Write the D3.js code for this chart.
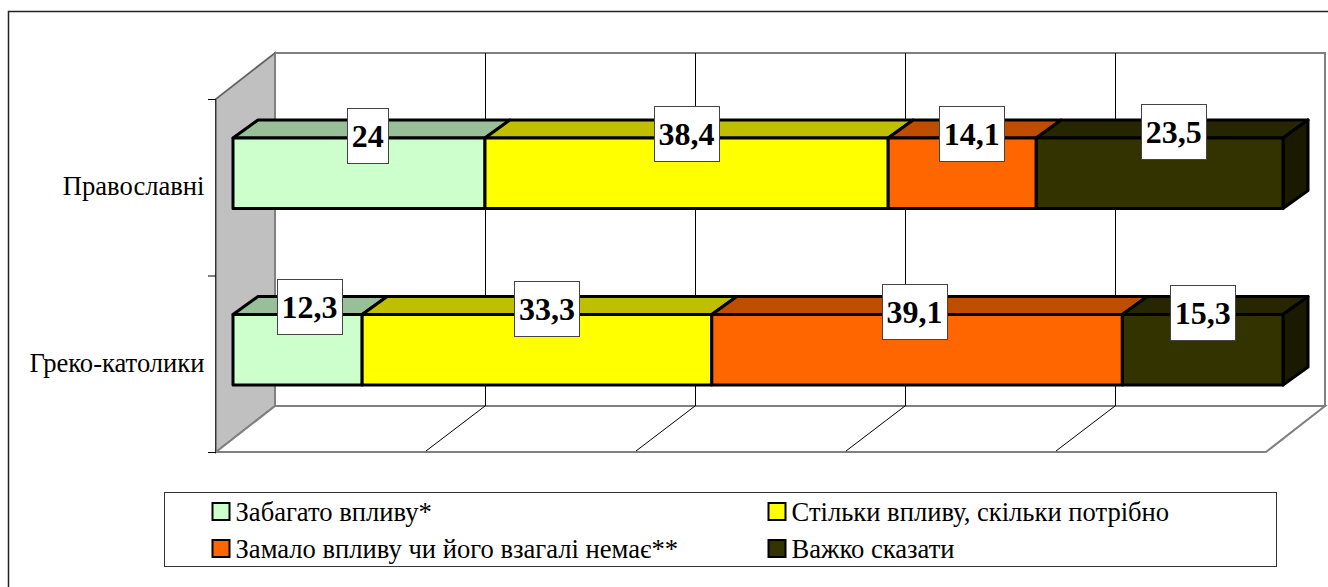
<!DOCTYPE html>
<html>
<head>
<meta charset="utf-8">
<script src="https://cdn.jsdelivr.net/npm/d3@7"></script>
<style>
  html, body { margin: 0; padding: 0; background: #fff; }
  svg { display: block; }
  text { font-family: "Liberation Serif", serif; fill: #000; }
</style>
</head>
<body>
<div id="chart-area"></div>
<script>
const categories = ["Православні", "Греко-католики"];
const seriesNames = ["Забагато впливу*", "Стільки впливу, скільки потрібно", "Замало впливу чи його взагалі немає**", "Важко сказати"];
const orthodoxValues = [24, 38.4, 14.1, 23.5];
const catholicValues = [12.3, 33.3, 39.1, 15.3];
const valueLabels = [["24", "38,4", "14,1", "23,5"], ["12,3", "33,3", "39,1", "15,3"]];
const colors = ["#ccffcc", "#ffff00", "#ff6600", "#333300"];
const values = [orthodoxValues, catholicValues];

const SVG_WIDTH = 1328;
const SVG_HEIGHT = 587;

// the labels were dragged by hand in the original, so they are nudged one by one
const labelNudge = [[[8.7, -2], [0, -4], [9.5, -4], [14, -5.5]], [[12, -7.5], [10, -5], [-2.5, -2.5], [0, -1.5]]];

const svg = d3.select("#chart-area").append("svg").attr("width", SVG_WIDTH).attr("height", SVG_HEIGHT);

// outer frame runs off the picture on the right and bottom
svg.append("path").attr("d", "M8.5,587V11.5H1328").attr("fill", "none").attr("stroke", "#222").attr("stroke-width", 1.5);

const depth = { x: 59, y: -46 };
const barDepth = { x: 25, y: -18 };

const xFront = d3.scaleLinear().domain([0, 100]).range([216, 1266]);
const xBack = d3.scaleLinear().domain([0, 100]).range([216 + depth.x, 1266 + depth.x]);
const xBar = d3.scaleLinear().domain([0, 100]).range([233, 1283]);
const yWall = d3.scalePoint().domain([0, 1, 2]).range([99, 452]);
const yBar = d3.scaleBand().domain(categories).range([85, 438]).paddingInner(0.6).paddingOuter(0.3);

const line = d3.line();
const top_ = yWall(0), bottom = yWall(2);

// left wall
svg.append("path")
    .attr("d", line([[xFront(0), top_], [xBack(0), top_ + depth.y], [xBack(0), bottom + depth.y], [xFront(0), bottom]]) + "Z")
    .attr("fill", "#c0c0c0").attr("stroke", "#808080").attr("stroke-width", 2);

// floor
svg.append("path")
    .attr("d", line([[xFront(0), bottom], [xBack(0), bottom + depth.y], [xBack(100), bottom + depth.y], [xFront(100), bottom]]) + "Z")
    .attr("fill", "#fff").attr("stroke", "#808080").attr("stroke-width", 2);

// back wall
svg.append("rect")
    .attr("x", xBack(0)).attr("y", top_ + depth.y)
    .attr("width", xBack(100) - xBack(0)).attr("height", bottom - top_)
    .attr("fill", "#fff").attr("stroke", "#808080").attr("stroke-width", 2);

const gridTicks = xFront.ticks(5).slice(1, -1);

svg.append("g").selectAll("line").data(gridTicks).enter().append("line")
    .attr("x1", (d) => xBack(d) + 0.5).attr("x2", (d) => xBack(d) + 0.5)
    .attr("y1", top_ + depth.y).attr("y2", bottom + depth.y)
    .attr("stroke", "#000").attr("stroke-width", 1);

svg.append("g").selectAll("line").data(gridTicks).enter().append("line")
    .attr("x1", (d) => xBack(d)).attr("y1", bottom + depth.y)
    .attr("x2", (d) => xFront(d)).attr("y2", bottom - 1)
    .attr("stroke", "#000").attr("stroke-width", 1);

// axis line and its ticks in front of the wall
svg.append("line")
    .attr("x1", xFront(0) - 0.5).attr("x2", xFront(0) - 0.5).attr("y1", top_).attr("y2", bottom)
    .attr("stroke", "#333").attr("stroke-width", 1);
svg.append("line")
    .attr("x1", xFront(0)).attr("x2", xBack(0)).attr("y1", top_).attr("y2", top_ + depth.y)
    .attr("stroke", "#555").attr("stroke-width", 1);
svg.append("g").selectAll("line").data(yWall.domain()).enter().append("line")
    .attr("x1", xFront(0) - 8).attr("x2", xFront(0))
    .attr("y1", (d) => yWall(d) + 0.5).attr("y2", (d) => yWall(d) + 0.5)
    .attr("stroke", "#000");

svg.append("g").selectAll("text").data(categories).enter().append("text")
    .attr("x", 204.5)
    .attr("y", (d) => yBar(d) + yBar.bandwidth() / 2 + 22)
    .attr("text-anchor", "end")
    .attr("font-size", "26.6px")
    .text((d) => d);

function shade(color, k) {
    const c = d3.rgb(color);
    return d3.rgb(c.r * k, c.g * k, c.b * k).formatHex();
}

// stacked boxes
categories.forEach((cat, row) => {
    const starts = d3.cumsum([0].concat(values[row]));
    const y0 = yBar(cat);
    const h = yBar.bandwidth();
    const g = svg.append("g");

    values[row].forEach((v, i) => {
        const x0 = xBar(starts[i]);
        const x1 = xBar(starts[i + 1]);
        g.append("path")
            .attr("d", line([[x0, y0], [x0 + barDepth.x, y0 + barDepth.y], [x1 + barDepth.x, y0 + barDepth.y], [x1, y0]]) + "Z")
            .attr("fill", shade(colors[i], 0.75));
        if (i === values[row].length - 1) {
            g.append("path")
                .attr("d", line([[x1, y0], [x1 + barDepth.x, y0 + barDepth.y], [x1 + barDepth.x, y0 + barDepth.y + h], [x1, y0 + h]]) + "Z")
                .attr("fill", shade(colors[i], 0.5));
        }
        g.append("rect").attr("x", x0).attr("y", y0).attr("width", x1 - x0).attr("height", h).attr("fill", colors[i]);
    });

    g.selectAll("path, rect")
        .attr("stroke", "#000").attr("stroke-width", 3).attr("stroke-linejoin", "round");
});

// value labels go on top of all the boxes
categories.forEach((cat, row) => {
    const starts = d3.cumsum([0].concat(values[row]));
    values[row].forEach((v, i) => {
        const cx = (xBar(starts[i]) + xBar(starts[i + 1])) / 2 + labelNudge[row][i][0];
        const cy = yBar(cat) + labelNudge[row][i][1];
        const w = valueLabels[row][i].length > 2 ? 65 : 41;
        svg.append("rect")
            .attr("x", Math.round(cx - w / 2) + 0.5).attr("y", Math.round(cy - 28) + 0.5)
            .attr("width", w).attr("height", 55)
            .attr("fill", "#fff").attr("stroke", "#444").attr("stroke-width", 1);
        svg.append("text")
            .attr("x", cx).attr("y", cy + 11)
            .attr("text-anchor", "middle")
            .attr("font-size", "32px").attr("font-weight", "bold")
            .text(valueLabels[row][i]);
    });
});

// legend
const legend = svg.append("g");
legend.append("rect")
    .attr("x", 164.5).attr("y", 492.5).attr("width", 1112).attr("height", 74)
    .attr("fill", "#fff").attr("stroke", "#333").attr("stroke-width", 1);

const legendX = d3.scalePoint().domain([0, 1]).range([212, 768]);
const legendY = d3.scalePoint().domain([0, 1]).range([503, 540]);

seriesNames.forEach((name, i) => {
    const col = i % 2, row = Math.floor(i / 2);
    const legendRow = legend.append("g")
        .attr("transform", `translate(${legendX(col)}, ${legendY(row)})`);
    legendRow.append("rect")
        .attr("x", 0.5).attr("y", 0).attr("width", 17).attr("height", 17)
        .attr("fill", colors[i]).attr("stroke", "#000").attr("stroke-width", 2);
    legendRow.append("text")
        .attr("x", 23.5).attr("y", 18)
        .attr("font-size", "26.6px")
        .text(name);
});
</script>
</body>
</html>
